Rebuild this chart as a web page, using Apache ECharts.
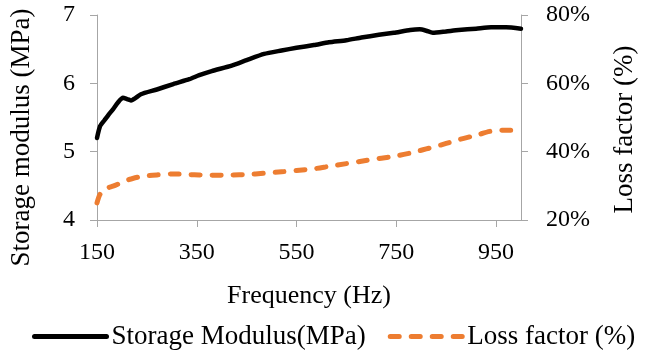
<!DOCTYPE html>
<html>
<head>
<meta charset="utf-8">
<script src="https://cdn.jsdelivr.net/npm/echarts@6/dist/echarts.min.js"></script>
<style>
html,body{margin:0;padding:0;background:#fff;}
#chart{width:646px;height:363px;}
</style>
</head>
<body>
<div id="chart"></div>
<script>
var frequency = [150,156,165,173,182,192,202,210,218,238,270,303,335,355,380,420,450,485,520,550,585,615,650,680,715,745,778,797,810,823,850,875,910,940,970,1000];
var storageModulus = [5.20,5.37,5.46,5.54,5.62,5.72,5.79,5.77,5.75,5.84,5.91,5.99,6.06,6.12,6.18,6.26,6.34,6.43,6.48,6.52,6.56,6.60,6.63,6.67,6.71,6.74,6.78,6.79,6.77,6.74,6.76,6.78,6.80,6.82,6.82,6.80];
var lossFactor = [25.0,27.5,29.0,29.5,29.9,30.5,31.2,31.6,32.0,32.7,33.2,33.5,33.3,33.2,33.1,33.2,33.3,33.7,34.1,34.5,35.0,35.7,36.5,37.2,38.0,38.6,39.6,40.3,40.8,41.3,42.4,43.5,44.8,46.0,46.3,46.3];
var seriesNames = ['Storage Modulus(MPa)', 'Loss factor (%)'];
var xTitle = 'Frequency (Hz)';
var yLeftTitle = 'Storage modulus (MPa)';
var yRightTitle = 'Loss factor (%)';

var FONT = '"Liberation Serif", "Times New Roman", serif';
var axisGray = '#A6A6A6';

function pairs(xs, ys){ return xs.map(function(x,i){ return [x, ys[i]]; }); }

var chart = echarts.init(document.getElementById('chart'));
chart.setOption({
  animation: false,
  backgroundColor: '#fff',
  textStyle: { fontFamily: FONT, color: '#000' },
  grid: { left: 94, right: 116, top: 15, bottom: 143 },
  legend: {
    data: seriesNames,
    left: 32, top: 323, width: 640, padding: 0,
    itemWidth: 72, itemHeight: 14, itemGap: 22,
    itemStyle: { opacity: 0 },
    lineStyle: { width: 5 },
    textStyle: { fontFamily: FONT, fontSize: 27, color: '#000' }
  },
  xAxis: {
    type: 'value', min: 150, max: 1000, interval: 200,
    name: xTitle, nameLocation: 'middle', nameGap: 63,
    nameTextStyle: { fontFamily: FONT, fontSize: 26, color: '#000' },
    axisLine: { show: true, lineStyle: { color: axisGray, width: 1 } },
    axisTick: { show: true, length: 7, lineStyle: { color: axisGray } },
    axisLabel: { fontFamily: FONT, fontSize: 24, color: '#000', margin: 21, showMaxLabel: false },
    splitLine: { show: false }
  },
  yAxis: [{
    type: 'value', min: 4, max: 7, interval: 1, position: 'left',
    name: yLeftTitle, nameLocation: 'middle', nameGap: 62, nameRotate: 90,
    nameTextStyle: { fontFamily: FONT, fontSize: 27, color: '#000', padding: [0, 40, 0, 0] },
    axisLine: { show: true, lineStyle: { color: axisGray, width: 1 } },
    axisTick: { show: true, length: 7, lineStyle: { color: axisGray } },
    axisLabel: { fontFamily: FONT, fontSize: 24, color: '#000', margin: 22 },
    splitLine: { show: false }
  }, {
    type: 'value', min: 20, max: 80, interval: 20, position: 'right',
    name: yRightTitle, nameLocation: 'middle', nameGap: 90, nameRotate: 90,
    nameTextStyle: { fontFamily: FONT, fontSize: 27, color: '#000', padding: [0, 24, 0, 0] },
    axisLine: { show: true, lineStyle: { color: axisGray, width: 1 } },
    axisTick: { show: true, length: 7, lineStyle: { color: axisGray } },
    axisLabel: { fontFamily: FONT, fontSize: 24, color: '#000', margin: 25, formatter: '{value}%' },
    splitLine: { show: false }
  }],
  series: [{
    name: seriesNames[0], type: 'line', yAxisIndex: 0,
    data: pairs(frequency, storageModulus),
    symbol: 'none', smooth: 0.2,
    lineStyle: { color: '#000', width: 4.5, cap: 'round', join: 'round' },
    itemStyle: { color: '#000' }
  }, {
    name: seriesNames[1], type: 'line', yAxisIndex: 1,
    data: pairs(frequency, lossFactor),
    symbol: 'none', smooth: 0.3,
    lineStyle: { color: '#ED7D31', width: 5, type: [9, 12], cap: 'round', join: 'round' },
    itemStyle: { color: '#ED7D31' }
  }]
});
</script>
</body>
</html>
